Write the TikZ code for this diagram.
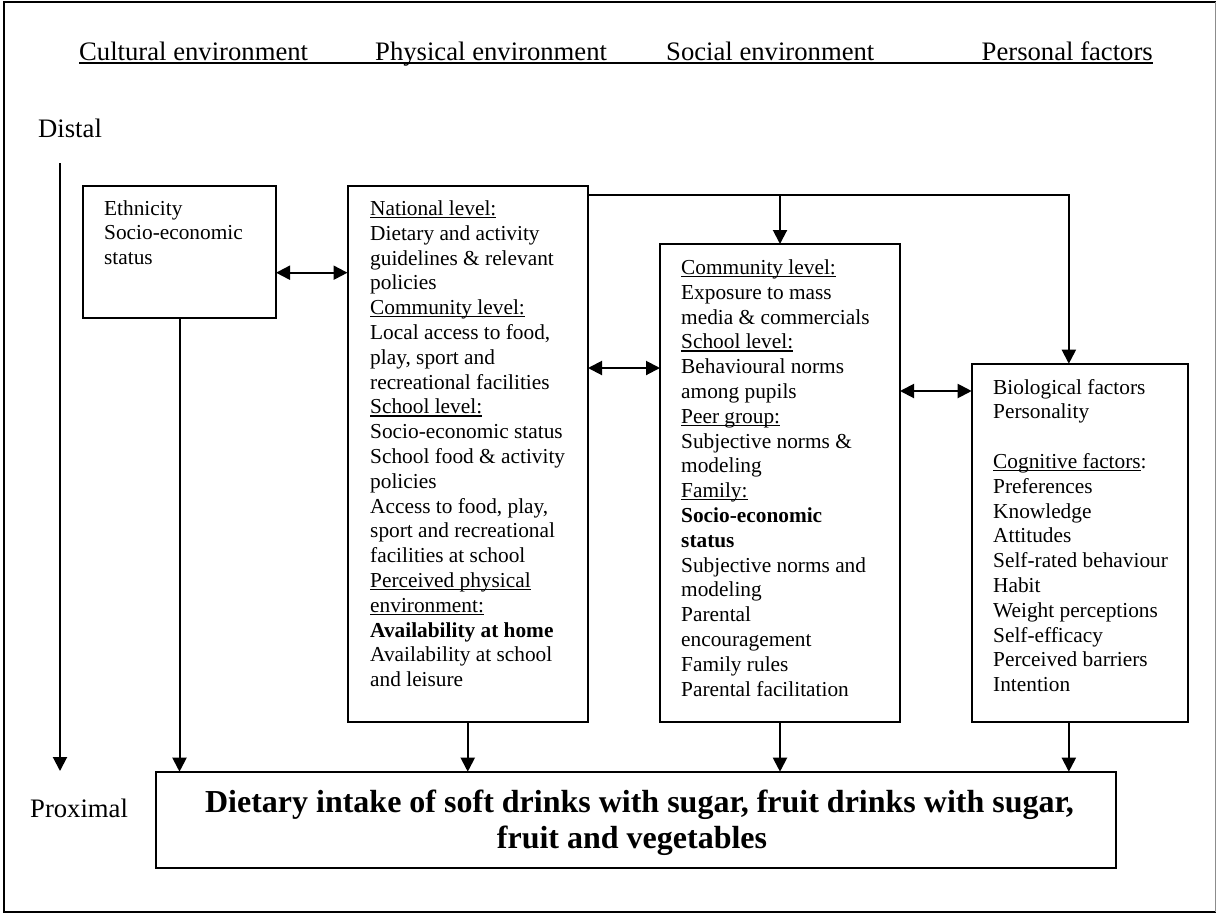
\documentclass[tikz,border=0pt]{standalone}
\usepackage{fontspec}
\setmainfont{Liberation Serif}
\usetikzlibrary{arrows.meta}

% underline set just below the baseline, crossing descenders
\newcommand\ulc[1]{\setbox0\hbox{#1}\rlap{\rule[-2.6pt]{\wd0}{1.1pt}}\box0}

\tikzset{
  box/.style={draw, line width=2pt, inner sep=0pt, outer sep=0pt},
  boxtext/.style={anchor=base west, inner sep=0pt, font={\fontsize{21.33pt}{24.8pt}\selectfont}},
  head/.style={anchor=base west, inner sep=0pt, font={\fontsize{26.67pt}{30pt}\selectfont}},
  outcome/.style={anchor=base, inner sep=0pt, font={\fontsize{32pt}{36.8pt}\selectfont\bfseries}},
  arr/.style={line width=2pt, -{Triangle[length=14pt,width=14pt]}},
  dbl/.style={line width=2pt, {Triangle[length=14pt,width=14pt]}-{Triangle[length=14pt,width=14pt]}}
}

\begin{document}
\begin{tikzpicture}[x=1pt, y=-1pt]
\useasboundingbox (0,0) rectangle (1216,914);
% page frame
\draw[line width=2.5pt, line cap=rect] (1215,2) -- (4,2) -- (4,912) -- (1215,912);
\draw[line width=1pt, black!45] (1215,2) -- (1215,912);

% column headings
\node[head] (hC) at (79,60) {Cultural environment};
\node[head] (hPh) at (375,60) {Physical environment};
\node[head] (hS) at (666,60) {Social environment};
\node[head, anchor=base east] (hP) at (1153,60) {Personal factors};
\draw[line width=2pt] ([yshift=-3pt]hC.base west) -- ([yshift=-3pt]hP.base east);

% distal / proximal axis
\node[head] (dist) at (38,137) {Distal};
\node[head] (prox) at (30,817) {Proximal};
\coordinate (d1) at (60,163);
\coordinate (d2) at (60,771);
\draw[arr] (d1) -- (d2);

% boxes
\node[box, minimum width=193pt, minimum height=132pt] (A) at (179.5,252) {};
\node[box, minimum width=240.5pt, minimum height=535.8pt] (B) at (467.75,453.6) {};
\node[box, minimum width=240pt, minimum height=477.5pt] (C) at (780,482.75) {};
\node[box, minimum width=216.3pt, minimum height=357.8pt] (D) at (1079.85,542.6) {};
\node[box, minimum width=960.3pt, minimum height=96pt] (M) at (635.85,819.7) {};

% box contents
\node[boxtext] (tA) at (104,215) {\begin{tabular}[t]{@{}l@{}}
Ethnicity\\
Socio-economic\\
status
\end{tabular}};

\node[boxtext] (tB) at (370,215.5) {\begin{tabular}[t]{@{}l@{}}
\ulc{National level:}\\
Dietary and activity\\
guidelines \& relevant\\
policies\\
\ulc{Community level:}\\
Local access to food,\\
play, sport and\\
recreational facilities\\
\ulc{School level:}\\
Socio-economic status\\
School food \& activity\\
policies\\
Access to food, play,\\
sport and recreational\\
facilities at school\\
\ulc{Perceived physical}\\
\ulc{environment:}\\
\textbf{Availability at home}\\
Availability at school\\
and leisure
\end{tabular}};

\node[boxtext] (tC) at (681,274.5) {\begin{tabular}[t]{@{}l@{}}
\ulc{Community level:}\\
Exposure to mass\\
media \& commercials\\
\ulc{School level:}\\
Behavioural norms\\
among pupils\\
\ulc{Peer group:}\\
Subjective norms \&\\
modeling\\
\ulc{Family:}\\
\textbf{Socio-economic}\\
\textbf{status}\\
Subjective norms and\\
modeling\\
Parental\\
encouragement\\
Family rules\\
Parental facilitation
\end{tabular}};

\node[boxtext] (tD) at (993,394) {\begin{tabular}[t]{@{}l@{}}
Biological factors\\
Personality\\
\\
\ulc{Cognitive factors}:\\
Preferences\\
Knowledge\\
Attitudes\\
Self-rated behaviour\\
Habit\\
Weight perceptions\\
Self-efficacy\\
Perceived barriers\\
Intention
\end{tabular}};

\node[outcome] (tM1) at (639.5,812) {Dietary intake of soft drinks with sugar, fruit drinks with sugar,};
\node[outcome] (tM2) at (632,848.5) {fruit and vegetables};

% connectors
\coordinate (ytop) at (0,195);
\coordinate (yab) at (0,272.7);
\coordinate (ybc) at (0,368);
\coordinate (ycd) at (0,391);

\draw[dbl] (A.east |- yab) -- (B.west |- yab);
\draw[dbl] (B.east |- ybc) -- (C.west |- ybc);
\draw[dbl] (C.east |- ycd) -- (D.west |- ycd);

\draw[arr] (B.east |- ytop) -| ([xshift=-11pt]D.north);
\draw[arr] (C.north |- ytop) -- (C.north);

\draw[arr] (A.south) -- (A.south |- M.north);
\draw[arr] (B.south) -- (B.south |- M.north);
\draw[arr] (C.south) -- (C.south |- M.north);
\draw[arr] ([xshift=-11pt]D.south) -- ([xshift=-11pt]D.south |- M.north);
\end{tikzpicture}
\end{document}
